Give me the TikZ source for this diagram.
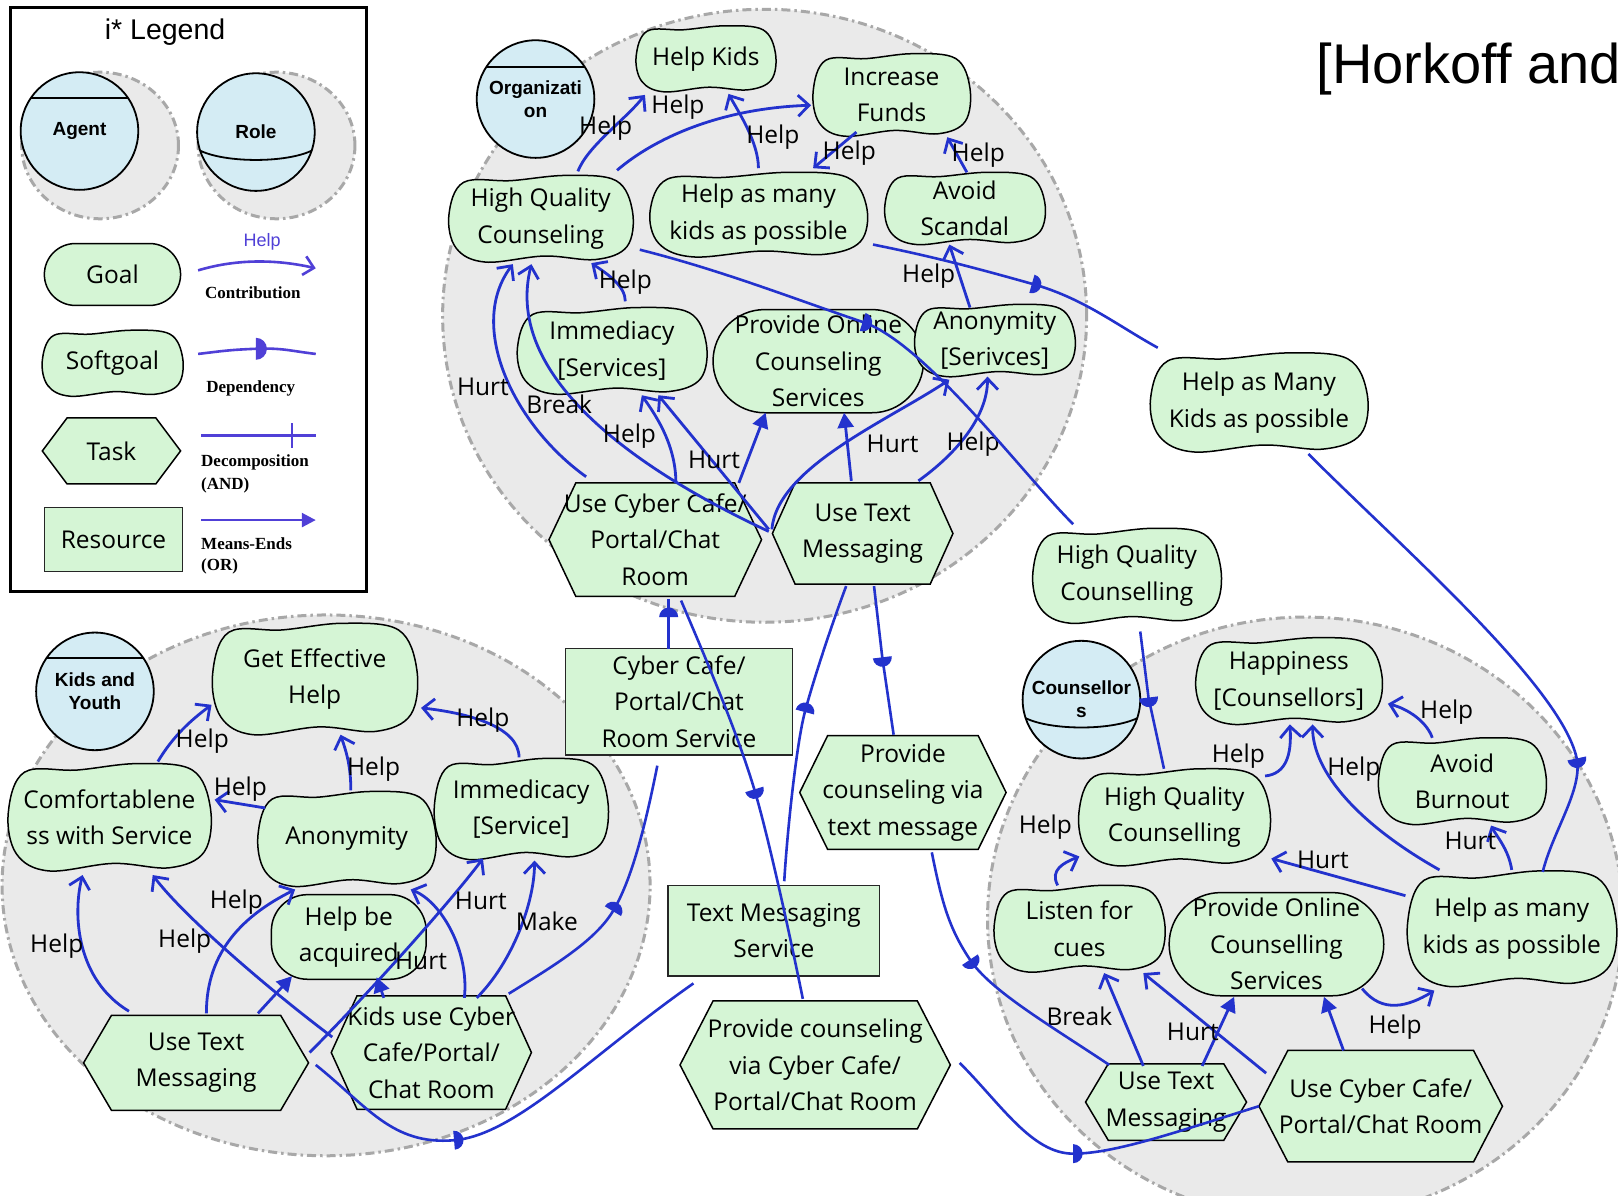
\documentclass[tikz,border=0pt]{standalone}
\usepackage{fontspec}
\setmainfont{Open Sans}
\newfontfamily\arialf{Liberation Sans}
\newfontfamily\timesf{Liberation Serif}
\usetikzlibrary{arrows.meta}
\definecolor{ngreen}{RGB}{213,245,213}
\definecolor{ablue}{RGB}{212,236,244}
\definecolor{agrey}{RGB}{234,234,234}
\definecolor{dgrey}{RGB}{168,168,168}
\definecolor{lnk}{RGB}{35,50,205}
\definecolor{leg}{RGB}{80,64,215}
\tikzset{
 every node/.style={inner sep=0pt, outer sep=0pt},
 txt/.style={align=center, font=\fontsize{24.5}{36.5}\selectfont},
 lbl/.style={font=\fontsize{24.5}{30}\selectfont},
 legtxt/.style={font=\timesf\bfseries\fontsize{17}{20}\selectfont},
 shapeline/.style={draw=black, line width=1.5pt, fill=ngreen},
 resbox/.style={txt, draw=black!85, line width=1.5pt, fill=ngreen},
 actorbg/.style={fill=agrey, draw=dgrey, line width=3pt, dash pattern=on 9pt off 4pt on 2.5pt off 4pt},
 agentc/.style={circle, draw=black, line width=1.8pt, fill=ablue, minimum size=117.6pt, align=center, font=\arialf\bfseries\fontsize{19}{23}\selectfont},
 chord/.style={draw=black, line width=1.8pt},
 contrib/.style={draw=lnk, line width=2.8pt, -{Straight Barb[length=11pt,width=21pt]}},
 meansend/.style={draw=lnk, line width=2.8pt, -{Triangle[length=15pt,width=16pt]}},
 deplink/.style={draw=lnk, line width=2.6pt},
 legline/.style={draw=leg, line width=2.6pt},
}
\newcommand\isoft[6]{%
 \draw[shapeline] plot[smooth cycle, tension=0.6] coordinates {
  ({#2-0.42*#4},{#3-0.42*#5}) ({#2-0.16*#4},{#3-0.44*#5}) ({#2+0.14*#4},{#3-0.50*#5})
  ({#2+0.41*#4},{#3-0.44*#5}) ({#2+0.50*#4},{#3-0.08*#5}) ({#2+0.47*#4},{#3+0.32*#5})
  ({#2+0.30*#4},{#3+0.47*#5}) ({#2+0.02*#4},{#3+0.43*#5}) ({#2-0.30*#4},{#3+0.50*#5})
  ({#2-0.46*#4},{#3+0.34*#5}) ({#2-0.50*#4},{#3-0.04*#5})};
 \node[txt] (#1) at (#2,#3) {#6};}
\newcommand\itask[7]{%
 \draw[shapeline] ({#2-#4/2},#3) -- ({#2-#4/2+#6},{#3-#5/2}) -- ({#2+#4/2-#6},{#3-#5/2})
  -- ({#2+#4/2},#3) -- ({#2+#4/2-#6},{#3+#5/2}) -- ({#2-#4/2+#6},{#3+#5/2}) -- cycle;
 \node[txt] (#1) at (#2,#3) {#7};}
\newcommand\igoal[7]{%
 \node[txt, draw=black, line width=1.5pt, fill=ngreen, minimum width={#4*1.0319pt},
  minimum height={#5*1.0319pt}, rounded corners={#6*1.0319pt}] (#1) at (#2,#3) {#7};}
\newcommand\depmark[2]{%
 \fill[lnk, shift={(#1)}, rotate=#2] (0pt,-9.5pt) arc[start angle=-90,end angle=90,radius=9.5pt] -- cycle;}
\begin{document}
\begin{tikzpicture}[x=1.0319pt, y=-1.0319pt]
\useasboundingbox (0,0) rectangle (1568,1159);
\clip (0,0) rectangle (1568,1159);
\fill[white] (0,0) rectangle (1568,1159);

% ---------------- actor boundaries
\draw[actorbg] (741,306) ellipse [x radius=322pt, y radius=306.5pt];
\draw[actorbg] (316,858) ellipse [x radius=324pt, y radius=270.4pt];
\draw[actorbg] (1265,890) ellipse [x radius=317.8pt, y radius=301.3pt];

% ---------------- legend
\draw[line width=3pt] (10,7) rectangle (355,573);
\node[font=\arialf\fontsize{28.5}{32}\selectfont] (ltitle) at (160,31) {i* Legend};
\draw[actorbg] (97,141) ellipse [x radius=78.4pt, y radius=73.3pt];
\node[agentc] (lagent) at (77,127) {Agent};
\draw[chord] ([shift={(-47,-32)}]lagent.center) -- ([shift={(47,-32)}]lagent.center);
\draw[actorbg] (268,141) ellipse [x radius=78.4pt, y radius=73.3pt];
\node[agentc] (lrole) at (248,128) {Role};
\draw[chord] ([shift={(-54,18)}]lrole.center) .. controls +(25,12) and +(-25,12) .. ([shift={(54,18)}]lrole.center);
\igoal{lgoal}{109}{266}{132}{60}{30}{Goal}
\isoft{lsoft}{109}{352}{136}{64}{Softgoal}
\itask{ltask}{108}{437}{134}{64}{24}{Task}
\node[resbox, minimum width={134*1.0319pt}, minimum height={62*1.0319pt}] (lres) at (110,523) {Resource};

\coordinate (lc1) at (192,262); \coordinate (lc2) at (306,260);
\draw[legline, -{Straight Barb[length=10pt,width=19pt]}] (lc1) .. controls +(40,-12) and +(-35,-8) .. (lc2);
\node[font=\arialf\fontsize{18}{20}\selectfont, text=leg] (lhelp) at (254,234) {Help};
\node[legtxt] (lcon) at (245,284) {Contribution};
\coordinate (ld1) at (192,343); \coordinate (ldm) at (248,338); \coordinate (ld2) at (306,343);
\draw[legline] (ld1) .. controls +(25,-3) and +(-25,1) .. (ldm) .. controls +(25,-1) and +(-25,-3) .. (ld2);
\fill[leg, shift={(ldm)}] (0pt,-11pt) arc[start angle=-90,end angle=90,radius=11pt] -- cycle;
\node[legtxt] (ldep) at (243,376) {Dependency};
\coordinate (ldc1) at (195,422); \coordinate (ldc2) at (306,422); \coordinate (ldt) at (283,422);
\draw[legline] (ldc1) -- (ldc2);
\draw[legline] ([shift={(0,-12)}]ldt) -- ([shift={(0,12)}]ldt);
\node[legtxt, anchor=west] (ldec) at (195,448) {Decomposition};
\node[legtxt, anchor=west] (land) at (195,470) {(AND)};
\coordinate (lm1) at (195,504); \coordinate (lm2) at (306,504);
\draw[legline, -{Triangle[length=14pt,width=14pt]}] (lm1) -- (lm2);
\node[legtxt, anchor=west] (lme) at (195,527) {Means-Ends};
\node[legtxt, anchor=west] (lor) at (195,549) {(OR)};

\node[anchor=base west, font=\arialf\fontsize{56}{60}\selectfont] (cite) at (1276,80.5) {[Horkoff and};

% ---------------- organization actor
\node[agentc] (org) at (519,96) {Organizati\\on};
\draw[chord] ([shift={(-47,-31)}]org.center) -- ([shift={(47,-31)}]org.center);
\isoft{helpkids}{684}{57}{135}{64}{Help Kids}
\isoft{incfunds}{864}{92}{152}{80}{Increase\\Funds}
\isoft{hqc1}{524}{212}{178}{84}{High Quality\\Counseling}
\isoft{hamk1}{735}{208}{210}{82}{Help as many\\kids as possible}
\isoft{avoidsc}{935}{202}{155}{70}{Avoid\\Scandal}
\isoft{immed1}{593}{340}{183}{84}{Immediacy\\{[Services]}}
\igoal{poc1}{793}{350}{204}{100}{50}{Provide Online\\Counseling\\Services}
\isoft{anon1}{964}{330}{155}{70}{Anonymity\\{[Serivces]}}
\itask{ucc1}{635}{523}{206}{110}{26}{Use Cyber Cafe/\\Portal/Chat\\Room}
\itask{utm1}{836}{517}{175}{98}{22}{Use Text\\Messaging}

% ---------------- outside elements
\isoft{hamk2}{1220}{390}{210}{96}{Help as Many\\Kids as possible}
\isoft{hqc2}{1092}{558}{182}{92}{High Quality\\Counselling}
\node[resbox, minimum width={220*1.0319pt}, minimum height={103*1.0319pt}] (ccres) at (658,680) {Cyber Cafe/\\Portal/Chat\\Room Service};
\itask{pcvt}{875}{768}{200}{110}{27}{Provide\\counseling via\\text message}
\node[resbox, minimum width={205*1.0319pt}, minimum height={88*1.0319pt}] (tmsvc) at (750,902) {Text Messaging\\Service};
\itask{pccc}{790}{1032}{262}{124}{32}{Provide counseling\\via Cyber Cafe/\\Portal/Chat Room}

% ---------------- kids actor
\node[agentc] (kids) at (92,670) {Kids and\\Youth};
\draw[chord] ([shift={(-47,-32)}]kids.center) -- ([shift={(47,-32)}]kids.center);
\isoft{geh}{305}{658}{198}{108}{Get Effective\\Help}
\isoft{comf}{106}{792}{196}{104}{Comfortablene\\ss with Service}
\isoft{anon3}{336}{813}{172}{92}{Anonymity}
\isoft{immed3}{505}{784}{168}{98}{Immedicacy\\{[Service]}}
\igoal{hba}{338}{908}{150}{82}{35}{Help be\\acquired}
\itask{utm3}{190}{1030}{218}{92}{27}{Use Text\\Messaging}
\itask{kucc}{418}{1020}{194}{110}{25}{Kids use Cyber\\Cafe/Portal/\\Chat Room}

% ---------------- counsellors actor
\node[agentc] (couns) at (1048,678) {Counsellor\\s};
\draw[chord] ([shift={(-54,18)}]couns.center) .. controls +(25,12) and +(-25,12) .. ([shift={(54,18)}]couns.center);
\isoft{happ}{1249}{660}{180}{84}{Happiness\\{[Counsellors]}}
\isoft{hqc4}{1138}{792}{185}{94}{High Quality\\Counselling}
\isoft{avb}{1417}{757}{162}{84}{Avoid\\Burnout}
\isoft{lfc}{1046}{900}{165}{84}{Listen for\\cues}
\igoal{poc4}{1237}{915}{208}{100}{50}{Provide Online\\Counselling\\Services}
\isoft{hamk4}{1465}{900}{202}{112}{Help as many\\kids as possible}
\itask{utm4}{1130}{1068}{156}{74}{22}{Use Text\\Messaging}
\itask{ucc4}{1338}{1072}{236}{108}{28}{Use Cyber Cafe/\\Portal/Chat Room}

% ---------------- links inside organization
\draw[contrib] ([shift={(36,-46)}]hqc1.center) .. controls +(10,-25) and +(-20,25) .. ([shift={(-59,35)}]helpkids.center);
\draw[contrib] ([shift={(74,-47)}]hqc1.center) .. controls +(35,-30) and +(-90,3) .. ([shift={(-78,10)}]incfunds.center);
\draw[contrib] ([shift={(0,-45)}]hamk1.center) .. controls +(0,-25) and +(10,18) .. ([shift={(22,34)}]helpkids.center);
\draw[contrib] ([shift={(-34,36)}]incfunds.center) -- ([shift={(53,-45)}]hamk1.center);
\draw[contrib] ([shift={(2,-35)}]avoidsc.center) -- ([shift={(54,41)}]incfunds.center);
\draw[contrib] ([shift={(-24,-32)}]anon1.center) -- ([shift={(-15,35)}]avoidsc.center);
\draw[contrib] ([shift={(13,-48)}]immed1.center) .. controls +(0,-15) and +(15,10) .. ([shift={(49,43)}]hqc1.center);
\draw[contrib] ([shift={(-67,-61)}]ucc1.center) .. controls +(-70,-50) and +(-45,60) .. ([shift={(-27,44)}]hqc1.center);
\draw[contrib] ([shift={(-91,-2)}]utm1.center) .. controls +(-150,-70) and +(-25,100) .. ([shift={(-9,44)}]hqc1.center);
\draw[contrib] ([shift={(20,-55)}]ucc1.center) .. controls +(0,-40) and +(10,15) .. ([shift={(29,43)}]immed1.center);
\draw[contrib] ([shift={(-91,-4)}]utm1.center) -- ([shift={(45,43)}]immed1.center);
\draw[meansend] ([shift={(81,-55)}]ucc1.center) -- ([shift={(-51,50)}]poc1.center);
\draw[contrib] ([shift={(-88,-4)}]utm1.center) .. controls +(5,-60) and +(-60,40) .. ([shift={(-44,38)}]anon1.center);
\draw[meansend] ([shift={(-11,-51)}]utm1.center) -- ([shift={(25,50)}]poc1.center);
\draw[contrib] ([shift={(54,-51)}]utm1.center) .. controls +(35,-25) and +(0,40) .. ([shift={(-7,35)}]anon1.center);

\node[lbl] (t1) at (657,104) {Help};
\node[lbl] (t2) at (587,124) {Help};
\node[lbl] (t3) at (749,133) {Help};
\node[lbl] (t4) at (823,148) {Help};
\node[lbl] (t5) at (948,150) {Help};
\node[lbl] (t6) at (900,268) {Help};
\node[lbl] (t7) at (606,273) {Help};
\node[lbl] (t8) at (468,375) {Hurt};
\node[lbl] (t9) at (542,392) {Break};
\node[lbl] (t10) at (610,423) {Help};
\node[lbl] (t11) at (692,446) {Hurt};
\node[lbl] (t12) at (865,430) {Hurt};
\node[lbl] (t13) at (943,430) {Help};

% ---------------- kids links
\draw[contrib] ([shift={(47,-54)}]comf.center) .. controls +(15,-25) and +(-20,15) .. ([shift={(-100,25)}]geh.center);
\draw[contrib] ([shift={(4,-47)}]anon3.center) .. controls +(0,-25) and +(5,15) .. ([shift={(25,54)}]geh.center);
\draw[contrib] ([shift={(-2,-50)}]immed3.center) .. controls +(0,-30) and +(45,5) .. ([shift={(103,28)}]geh.center);
\draw[contrib] ([shift={(-79,-30)}]anon3.center) -- ([shift={(102,-17)}]comf.center);
\draw[contrib] ([shift={(-65,-50)}]utm3.center) .. controls +(-50,-30) and +(-10,40) .. ([shift={(-26,56)}]comf.center);
\draw[contrib] ([shift={(10,-48)}]utm3.center) .. controls +(0,-60) and +(-50,25) .. ([shift={(-50,49)}]anon3.center);
\draw[meansend] ([shift={(60,-48)}]utm3.center) -- ([shift={(-55,38)}]hba.center);
\draw[contrib] ([shift={(-96,-15)}]kucc.center) .. controls +(-60,-45) and +(30,40) .. ([shift={(42,56)}]comf.center);
\draw[contrib] ([shift={(110,-10)}]utm3.center) .. controls +(60,-60) and +(-30,40) .. ([shift={(-37,48)}]immed3.center);
\draw[contrib] ([shift={(32,-53)}]kucc.center) .. controls +(5,-45) and +(30,12) .. ([shift={(62,49)}]anon3.center);
\draw[meansend] ([shift={(-46,-53)}]kucc.center) -- ([shift={(27,39)}]hba.center);
\draw[contrib] ([shift={(44,-53)}]kucc.center) .. controls +(35,-35) and +(0,40) .. ([shift={(13,50)}]immed3.center);

\node[lbl] (k1) at (196,718) {Help};
\node[lbl] (k2) at (362,745) {Help};
\node[lbl] (k3) at (468,698) {Help};
\node[lbl] (k4) at (233,765) {Help};
\node[lbl] (k5) at (55,917) {Help};
\node[lbl] (k6) at (229,874) {Help};
\node[lbl] (k7) at (179,912) {Help};
\node[lbl] (k8) at (466,873) {Hurt};
\node[lbl] (k9) at (408,931) {Hurt};
\node[lbl] (k10) at (530,893) {Make};

% ---------------- counsellors links
\draw[contrib] ([shift={(88,-40)}]hqc4.center) .. controls +(20,-2) and +(2,30) .. ([shift={(1,42)}]happ.center);
\draw[contrib] ([shift={(-29,-42)}]avb.center) .. controls +(-5,-15) and +(20,5) .. ([shift={(96,22)}]happ.center);
\draw[contrib] ([shift={(-70,-57)}]hamk4.center) .. controls +(-80,-45) and +(0,45) .. ([shift={(23,42)}]happ.center);
\draw[contrib] ([shift={(0,-57)}]hamk4.center) .. controls +(-3,-20) and +(5,10) .. ([shift={(28,43)}]avb.center);
\draw[contrib] ([shift={(-103,-32)}]hamk4.center) -- ([shift={(94,40)}]hqc4.center);
\draw[contrib] ([shift={(-21,-42)}]lfc.center) .. controls +(-8,-15) and +(-15,6) .. ([shift={(-92,38)}]hqc4.center);
\draw[contrib] ([shift={(-22,-35)}]utm4.center) -- ([shift={(24,43)}]lfc.center);
\draw[contrib] ([shift={(-111,-32)}]ucc4.center) -- ([shift={(62,43)}]lfc.center);
\draw[meansend] ([shift={(35,-35)}]utm4.center) -- ([shift={(-41,51)}]poc4.center);
\draw[meansend] ([shift={(-36,-54)}]ucc4.center) -- ([shift={(46,51)}]poc4.center);
\draw[contrib] ([shift={(83,43)}]poc4.center) .. controls +(20,25) and +(-25,15) .. ([shift={(-75,60)}]hamk4.center);

\node[lbl] (c1) at (1200,733) {Help};
\node[lbl] (c2) at (1402,690) {Help};
\node[lbl] (c3) at (1312,745) {Help};
\node[lbl] (c4) at (1425,815) {Hurt};
\node[lbl] (c5) at (1282,833) {Hurt};
\node[lbl] (c6) at (1013,802) {Help};
\node[lbl] (c7) at (1046,985) {Break};
\node[lbl] (c8) at (1156,1000) {Hurt};
\node[lbl] (c9) at (1352,995) {Help};

% ---------------- dependencies
\coordinate (d1) at (836,312);
\coordinate (d2) at (1000,275);
\coordinate (d3) at (1528,735);
\coordinate (d4) at (1113,676);
\coordinate (d5) at (648,598);
\coordinate (d6) at (731,765);
\coordinate (d7) at (780,690);
\coordinate (d8) at (855,637);
\coordinate (d9) at (594,883);
\coordinate (d10) at (440,1105);
\coordinate (d11) at (940,930);
\coordinate (d12) at (1040,1118);

\draw[deplink] ([shift={(96,30)}]hqc1.center) .. controls +(80,20) and +(-60,-20) .. (d1) .. controls +(60,20) and +(-50,-50) .. ([shift={(-52,-50)}]hqc2.center);
\draw[deplink] ([shift={(111,29)}]hamk1.center) .. controls +(60,12) and +(-50,-14) .. (d2) .. controls +(50,14) and +(-40,-22) .. ([shift={(-98,-53)}]hamk2.center);
\draw[deplink] ([shift={(48,50)}]hamk2.center) .. controls +(90,90) and +(-15,-70) .. (d3) .. controls +(6,30) and +(10,-40) .. ([shift={(30,-55)}]hamk4.center);
\draw[deplink] ([shift={(13,54)}]hqc2.center) -- (d4) -- ([shift={(-10,-47)}]hqc4.center);
\draw[deplink] ([shift={(-10,-51)}]ccres.center) -- (d5) -- ([shift={(13,57)}]ucc1.center);
\draw[deplink] ([shift={(25,59)}]ucc1.center) .. controls +(30,70) and +(-15,-50) .. (d6) .. controls +(15,50) and +(-8,-40) .. ([shift={(-12,-64)}]pccc.center);
\draw[deplink] ([shift={(-16,51)}]utm1.center) .. controls +(-15,40) and +(8,-30) .. (d7) .. controls +(-8,30) and +(3,-50) .. ([shift={(10,-48)}]tmsvc.center);
\draw[deplink] ([shift={(11,51)}]utm1.center) -- (d8) -- ([shift={(-9,-56)}]pcvt.center);
\draw[deplink] ([shift={(-21,62)}]ccres.center) .. controls +(-12,60) and +(18,-30) .. (d9) .. controls +(-18,30) and +(40,-25) .. ([shift={(75,-57)}]kucc.center);
\draw[deplink] ([shift={(-78,51)}]tmsvc.center) .. controls +(-100,70) and +(60,-5) .. (d10) .. controls +(-60,5) and +(50,40) .. ([shift={(116,2)}]utm3.center);
\draw[deplink] ([shift={(28,58)}]pcvt.center) .. controls +(10,50) and +(-20,-30) .. (d11) .. controls +(20,30) and +(-60,-40) .. ([shift={(-55,-36)}]utm4.center);
\draw[deplink] ([shift={(140,-2)}]pccc.center) .. controls +(40,40) and +(-40,0) .. (d12) .. controls +(40,0) and +(-80,25) .. ([shift={(-118,0)}]ucc4.center);

\depmark{d1}{-18}
\depmark{d2}{-16}
\depmark{d3}{-78}
\depmark{d4}{-83}
\depmark{d5}{90}
\depmark{d6}{-73}
\depmark{d7}{75}
\depmark{d8}{-83}
\depmark{d9}{59}
\depmark{d10}{5}
\depmark{d11}{-56}
\depmark{d12}{0}
\end{tikzpicture}
\end{document}
